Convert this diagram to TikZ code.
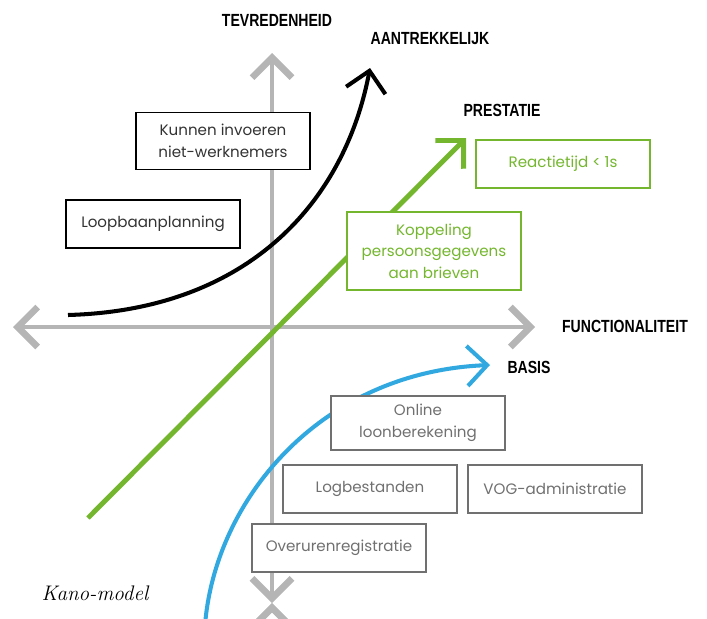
\documentclass[tikz,border=0pt]{standalone}
\usepackage{fontspec}
\usetikzlibrary{arrows.meta, positioning}
\newfontfamily\boxfont{Poppins}
\newfontfamily\capsfont[FakeStretch=0.8]{Liberation Sans}
\definecolor{axisgray}{HTML}{B5B5B5}
\definecolor{kanogreen}{HTML}{74B72E}
\definecolor{kanoblue}{HTML}{31A8DF}
\definecolor{boxgray}{HTML}{707070}

\begin{document}
\begin{tikzpicture}[x=0.02cm,y=-0.02cm,>={Straight Barb[length=4mm,width=8mm]}]
    \tikzstyle{axis}=[draw=axisgray,line width=2.6pt,>={Straight Barb[length=4mm,width=8mm,line width=3.8pt]}]
    \tikzstyle{curve}=[line width=2.3pt]
    \tikzstyle{caps}=[font={\capsfont\bfseries\fontsize{10}{12}\selectfont},inner sep=0pt]
    \tikzstyle{box}=[draw,fill=white,line width=0.9pt,minimum width=3.48cm,minimum height=0.96cm,align=center,inner sep=2pt,font={\boxfont\fontsize{8.6}{12.3}\selectfont}]
    \tikzstyle{blackbox}=[box,draw=black,text=black!80]
    \tikzstyle{greenbox}=[box,draw=kanogreen,text=kanogreen]
    \tikzstyle{graybox}=[box,draw=boxgray,text=boxgray]

    \useasboundingbox (0,0) rectangle (707,619);

    % axes
    \coordinate (west) at (13,327);
    \coordinate (east) at (535,327);
    \coordinate (north) at (272,53);
    \coordinate (south) at (272,603);
    \path[<->,axis]
    (west) edge (east)
    (south) edge (north)
   ;

    % curves
    \coordinate (att0) at (68,315);
    \coordinate (att1) at (370,68);
    \coordinate (prs0) at (88,518);
    \coordinate (prs1) at (466,138);
    \coordinate (bas0) at (205,625);
    \coordinate (bas1) at (490,365);
    \draw[->,curve,black] (att0) .. controls (250,310) and (345,200) .. (att1);
    \draw[->,curve,kanogreen,line width=2.8pt] (prs0) -- (prs1);
    \draw[->,curve,kanoblue] (bas0) .. controls (215,500) and (320,372) .. (bas1);

    % axis labels
    \node[caps] (tevreden) at (277,20) {TEVREDENHEID};
    \node[caps] (aantrek) at (430,39) {AANTREKKELIJK};
    \node[caps] (prestatie) at (502,110) {PRESTATIE};
    \node[caps] (functie) at (625,326) {FUNCTIONALITEIT};
    \node[caps] (basis) at (529,367) {BASIS};

    % boxes
    \node[blackbox,minimum height=1.14cm] (kunnen) at (223,141) {Kunnen invoeren\\niet-werknemers};
    \node[blackbox] (loopbaan) at (153,224) {Loopbaanplanning};
    \node[greenbox] (reactie) at (563,164) {Reactietijd < 1s};
    \node[greenbox,minimum height=1.56cm] (koppeling) at (434,251) {Koppeling\\persoonsgegevens\\aan brieven};
    \node[graybox,minimum height=1.08cm] (online) at (418,423) {Online\\loonberekening};
    \node[graybox] (logbest) at (370,489) {Logbestanden};
    \node[graybox] (vog) at (555,489) {VOG-administratie};
    \node[graybox] (overuren) at (339,548) {Overurenregistratie};

    \node[font=\itshape\fontsize{12}{14}\selectfont] (caption) at (95,593) {Kano-model};
\end{tikzpicture}
\end{document}
